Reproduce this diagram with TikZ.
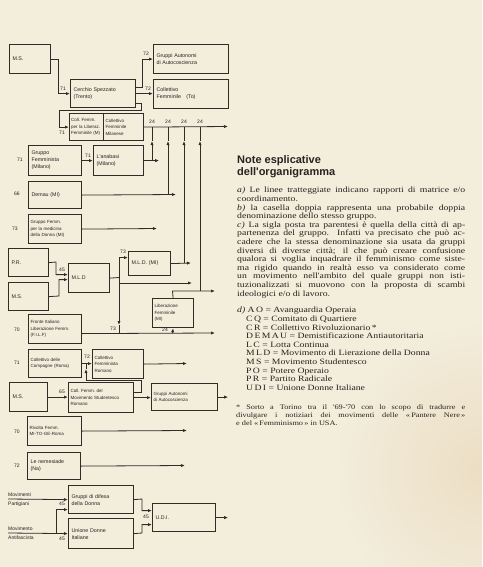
\documentclass[tikz,border=0pt]{standalone}
\usepackage{fontspec}
\setmainfont{Liberation Serif}
\newfontfamily\hwfont{Liberation Sans}
\newfontfamily\notefont[FakeStretch=1.2]{Liberation Serif}
\newfontfamily\titlefont{Liberation Sans}
\usetikzlibrary{arrows.meta,calc}
\definecolor{paper}{RGB}{243,237,220}
\definecolor{paperdark}{RGB}{236,222,196}
\definecolor{ink}{RGB}{48,44,40}
\definecolor{txt}{RGB}{38,35,32}
\newcommand\jl[1]{\makebox[228pt][s]{#1}}
\newcommand\fl[1]{\makebox[229pt][s]{#1}}
\begin{document}
\begin{tikzpicture}[x=1pt,y=-1pt,
  bx/.style={draw=ink, line width=1.2pt, anchor=north west, inner xsep=3pt, inner ysep=1pt,
    align=left, text=txt, font=\hwfont\fontsize{5.3}{7}\selectfont},
  sz/.style n args={3}{minimum width=#1pt, minimum height=#2pt, text width=#3pt},
  small/.style={font=\hwfont\fontsize{4.5}{6.4}\selectfont},
  ln/.style={draw=ink, line width=0.8pt},
  ar/.style={ln, -{Latex[length=4pt,width=3.2pt]}},
  lab/.style={font=\hwfont\fontsize{5}{5}\selectfont, text=txt, inner sep=0pt},
  note/.style={anchor=north west, inner sep=0pt, align=left, text=txt}]
\fill[paper] (0,0) rectangle (482,567);
\useasboundingbox (0,0) rectangle (482,567);
\begin{scope}
\clip (0,0) rectangle (482,567);
\shade[inner color=paperdark, outer color=paper] (482,470) circle (150);
\end{scope}

% ---------- boxes ----------
\node[bx, sz={41}{29}{35}] (ms1) at (9,44) {M.S.};
\node[bx, sz={75}{29}{69}] (ga1) at (153,44) {Gruppi Autonomi\\di Autocoscienza};
\node[bx, sz={75}{29}{69}] (cft) at (153,79) {Collettivo\\Femminile\quad(To)};
\node[bx, sz={65}{28}{59}] (cs) at (70,79) {Cerchio Spezzato\\(Trento)};
\node[bx, small, sz={34}{27}{31}, inner xsep=1.5pt] (dl) at (69,113) {\mbox{Coll.\ Femm.}\\\mbox{per la Liberaz.}\\\mbox{Femminile (M)}};
\node[bx, small, sz={40}{27}{36}, inner xsep=2pt] (dr) at (103,113) {Collettivo\\Femminile\\Milanese};
\node[bx, sz={53}{30}{47}] (gfm) at (28,145) {Gruppo\\Femminista\\(Milano)};
\node[bx, sz={50}{30}{44}] (ana) at (93,145) {L'anabasi\\(Milano)};
\node[bx, sz={53}{27}{47}] (dem) at (28,181) {Demau (MI)};
\node[bx, small, sz={53}{29}{49}, inner xsep=2pt] (gmd) at (28,214) {Gruppo Femm.\\per la medicina\\\mbox{della Donna (MI)}};
\node[bx, sz={40}{28}{34}] (pr) at (8,248) {P.R.};
\node[bx, sz={40}{28}{34}] (ms2) at (8,282) {M.S.};
\node[bx, sz={41}{29}{35}] (mld) at (68,263) {M.L.D};
\node[bx, sz={42}{24}{36}] (mldmi) at (128,251) {\mbox{M.L.D. (MI)}};
\node[bx, small, sz={41}{29}{37}, inner xsep=2pt] (lib) at (152,298) {Liberazione\\Femminile\\(MI)};
\node[bx, small, sz={53}{29}{49}, inner xsep=2pt] (filf) at (28,314) {Fronte Italiano\\\mbox{Liberazione Femm.}\\(F.I.L.F)};
\node[bx, small, sz={53}{28}{49}, inner xsep=2pt] (ccr) at (28,349) {Collettivo delle\\\mbox{Compagne (Roma)}};
\node[bx, small, sz={51}{29}{47}, inner xsep=2pt] (cfr) at (92,349) {Collettivo\\Femminista\\Romano};
\node[bx, sz={38}{29}{32}] (ms3) at (9,382) {M.S.};
\node[bx, small, sz={65}{30}{61}, inner xsep=2pt] (cfm) at (68,382) {Coll.\ Femm.\ del\\\mbox{Movimento Studentesco}\\Romano};
\node[bx, small, sz={66}{27}{62}, inner xsep=2pt] (ga2) at (151,383) {Gruppi Autonomi\\di Autocoscienza};
\node[bx, small, sz={54}{29}{50}, inner xsep=2pt] (riv) at (27,416) {Rivolta Femm.\\\mbox{MI-TO-GE-Roma}};
\node[bx, sz={53}{27}{47}] (nem) at (27,452) {Le nemesiade\\(Na)};
\node[bx, sz={65}{28}{59}] (gdd) at (68,485) {Gruppi di difesa\\della Donna};
\node[bx, sz={65}{30}{59}] (udn) at (68,518) {Unione Donne\\Italiane};
\node[bx, sz={63}{28}{57}] (udi) at (152,503) {U.D.I.};

% ---------- free texts / coordinates ----------
\coordinate (mp) at (8,499);
\coordinate (ma) at (8,533);
\node[lab, anchor=south west] (mpt1) at (8,497) {Movimenti};
\node[lab, anchor=north west] (mpt2) at (8,502) {Partigiani};
\node[lab, anchor=south west] (mat1) at (8,531) {Movimento};
\node[lab, anchor=north west] (mat2) at (8,536) {Antifascista};

% ---------- connectors ----------
\draw[ar] (ms1.east) -- ++(7,0) |- (cs.west);
\draw[ar] ($(cs.north east)+(0,8)$) -- ++(6,0) |- (ga1.west);
\draw[ar] (cs.east) -- (cs.east -| cft.west);
\draw[ar] ($(cs.south east)+(0,-5)$) -- ++(5,0) -- ++(0,7) -- ++(-82,0) |- (dl.west);
\coordinate (busend) at (228,126.5);
\draw[ar] (dr.east) -- (busend);

\draw[ar] (gfm.east) -- (ana.west);
\draw[ar] (ana.east) -- ++(15,0);
\draw[ar] (152,160) -- (152,141);
\draw[ln] (152,141) -- (152,126.5);

\draw[ar] (dem.east) -- (176,194.5);
\draw[ar] (168,194.5) -- (168,141);
\draw[ln] (168,141) -- (168,126.5);

\draw[ar] (gmd.east) -- (157,228.5);

\draw[ar] (pr.east) -- (56,262) |- ($(mld.west)+(0,-3.5)$);
\draw[ar] (ms2.east) -- (59,296) |- ($(mld.west)+(0,1.5)$);
\draw[ln] (mld.east) -- (119,277.5);
\draw[ar] (119,277.5) |- ($(mldmi.west)+(0,-6)$);
\draw[ar] (119,283) -- (192,283);
\draw[ar] (119,277.5) -- (119,325);
\draw[ln] (119,325) -- (119,333);

\draw[ar] (mldmi.east) -- (191,263);
\draw[ar] (184,263) -- (184,141);
\draw[ln] (184,141) -- (184,126.5);

\draw[ar] (lib.north) -- (172.5,291) -- (215,291);
\draw[ar] (200,291) -- (200,141);
\draw[ln] (200,141) -- (200,126.5);

\draw[ar] ($(filf.east)+(0,4.5)$) -- (215,333);
\draw[ar] (172.5,333) -- (lib.south);

\draw[ar] (ccr.east) -- (ccr.east -| cfr.west);
\draw[ar] (cfr.east) -- (187,363.5);
\draw[ar] (ms3.east) -- (ms3.east -| cfm.west);
\draw[ar] ($(cfm.north east)+(0,10)$) -- ++(7,0) -- ++(0,-12) -- (86,380) -- (86,369);
\draw[ln] (86,369) -- (86,363.5);
\draw[ar] (cfm.east) -- (cfm.east -| ga2.west);
\draw[ar] (ga2.east) -- ++(10,0);

\draw[ar] (riv.east) -- (187,430.5);
\draw[ar] (nem.east) -- (185,465.5);

\draw[ar] (mp) -- (gdd.west);
\draw[ar] (ma) -- (udn.west);
\draw[ar] (56,533) |- ($(gdd.west)+(0,10)$);
\draw[ar] (gdd.east) -- (142,499) |- ($(udi.west)+(0,-7)$);
\draw[ar] (udn.east) -- (142,533) |- ($(udi.west)+(0,7)$);
\draw[ar] (udi.east) -- ++(12,0);

% ---------- number labels ----------
\node[lab] (n1) at (63,89) {71};
\node[lab] (n2) at (146,54) {72};
\node[lab] (n3) at (148,89) {72};
\node[lab] (n4) at (62,133) {71};
\node[lab] (n5) at (152,122) {24};
\node[lab] (n6) at (168,122) {24};
\node[lab] (n7) at (184,122) {24};
\node[lab] (n8) at (200,122) {24};
\node[lab] (n9) at (20,160) {71};
\node[lab] (n10) at (88,156) {71};
\node[lab] (n11) at (17,194) {66};
\node[lab] (n12) at (15,229) {73};
\node[lab] (n13) at (62,270) {45};
\node[lab] (n14) at (123,252) {73};
\node[lab] (n15) at (113,329) {73};
\node[lab] (n16) at (165,330) {24};
\node[lab] (n17) at (17,330) {70};
\node[lab] (n18) at (17,363) {71};
\node[lab] (n19) at (87,357) {72};
\node[lab] (n20) at (62,392) {65};
\node[lab] (n21) at (17,432) {70};
\node[lab] (n22) at (17,466) {72};
\node[lab] (n23) at (62,504) {45};
\node[lab] (n24) at (62,539) {45};
\node[lab] (n25) at (146,517) {45};

% ---------- notes ----------
\node[note, font=\titlefont\bfseries\fontsize{11}{12.5}\selectfont] (title) at (237,155)
  {Note esplicative\\dell'organigramma};
\node[note, font=\notefont\fontsize{8.1}{8.6}\selectfont] (notes) at (237,187)
  {\jl{\textit{a)} Le linee tratteggiate indicano rapporti di matrice e/o}\\
   coordinamento.\\
   \jl{\textit{b)} la casella doppia rappresenta una probabile doppia}\\
   denominazione dello stesso gruppo.\\
   \jl{\textit{c)} La sigla posta tra parentesi è quella della città di ap-}\\
   \jl{partenenza del gruppo. Infatti va precisato che può ac-}\\
   \jl{cadere che la stessa denominazione sia usata da gruppi}\\
   \jl{diversi di diverse città; il che può creare confusione}\\
   \jl{qualora si voglia inquadrare il femminismo come siste-}\\
   \jl{ma rigido quando in realtà esso va considerato come}\\
   \jl{un movimento nell'ambito del quale gruppi non isti-}\\
   \jl{tuzionalizzati si muovono con la proposta di scambi}\\
   ideologici e/o di lavoro.};
\node[note, font=\notefont\fontsize{8.1}{8.6}\selectfont] (abbr) at (237,307)
  {\textit{d)} A\,O = Avanguardia Operaia\\
   \hspace*{9pt}C\,Q = Comitato di Quartiere\\
   \hspace*{9pt}C\,R = Collettivo Rivoluzionario\,*\\
   \hspace*{9pt}D\,E\,M\,A\,U = Demistificazione Antiautoritaria\\
   \hspace*{9pt}L\,C = Lotta Continua\\
   \hspace*{9pt}M\,L\,D = Movimento di Lierazione della Donna\\
   \hspace*{9pt}M\,S = Movimento Studentesco\\
   \hspace*{9pt}P\,O = Potere Operaio\\
   \hspace*{9pt}P\,R = Partito Radicale\\
   \hspace*{9pt}U\,D\,I = Unione Donne Italiane};
\node[note, font=\notefont\fontsize{6.9}{7.8}\selectfont] (fn) at (236,405)
  {\fl{* Sorto a Torino tra il '69-'70 con lo scopo di tradurre e}\\
   \fl{divulgare i notiziari dei movimenti delle «\,Pantere Nere\,»}\\
   e del «\,Femminismo\,» in USA.};
\end{tikzpicture}
\end{document}
